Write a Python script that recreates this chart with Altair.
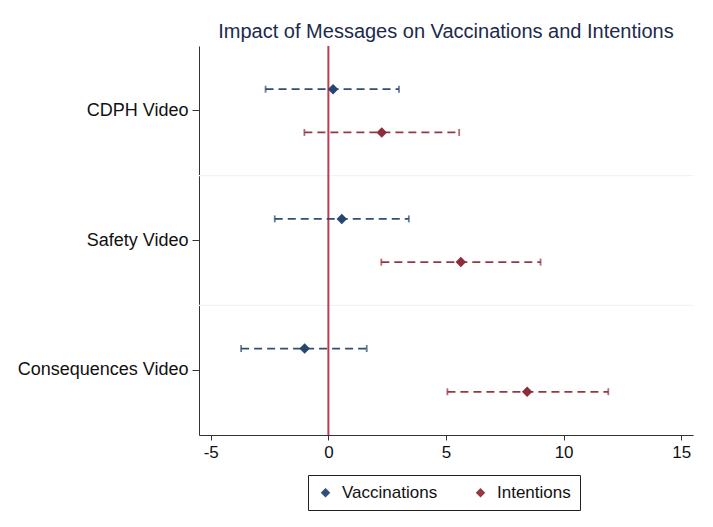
import altair as alt
import pandas as pd

categories = ["CDPH Video", "Safety Video", "Consequences Video"]
series = ["Vaccinations", "Intentions"]

vacc_est = [0.20, 0.57, -1.01]
vacc_lo = [-2.67, -2.28, -3.71]
vacc_hi = [3.00, 3.42, 1.63]

int_est = [2.27, 5.63, 8.45]
int_lo = [-1.02, 2.25, 5.06]
int_hi = [5.56, 9.02, 11.90]

rows = []
for i, c in enumerate(categories):
    rows.append({"cat": c, "series": "Vaccinations", "est": vacc_est[i], "lo": vacc_lo[i], "hi": vacc_hi[i]})
    rows.append({"cat": c, "series": "Intentions", "est": int_est[i], "lo": int_lo[i], "hi": int_hi[i]})
df = pd.DataFrame(rows)

sep_df = pd.DataFrame({"cat": categories[1:]})
zero_df = pd.DataFrame({"zero": [0]})

FONT = "Liberation Sans"
colors = ["#24466f", "#8e2d39"]

xscale = alt.Scale(domain=[-5.5, 15.5], nice=False, zero=False)
yenc = alt.Y("cat:N", sort=categories, scale=alt.Scale(paddingInner=0, paddingOuter=0),
             axis=alt.Axis(title=None, labelFontSize=18, labelColor="#111", labelFont=FONT,
                           tickSize=7, tickColor="#333", domainColor="#333", labelPadding=4,
                           grid=False))
yoff = alt.YOffset("series:N", sort=series, scale=alt.Scale(paddingInner=0, paddingOuter=0.5))
xaxis = alt.Axis(title=None, values=[-5, 0, 5, 10, 15], labelFontSize=17, labelColor="#111",
                 labelFont=FONT, tickSize=5, tickColor="#333", domainColor="#333", grid=False,
                 labelPadding=4, labelExpr="replace(datum.label, '\u2212', '-')")

legend = alt.Legend(title=None, orient="none", legendX=109, legendY=429,
                    direction="horizontal", strokeColor="#222", padding=9,
                    labelFontSize=17, labelFont=FONT, labelColor="#111",
                    symbolType="diamond", symbolSize=90, columnPadding=34,
                    labelOffset=8, symbolStrokeWidth=0)
cenc = alt.Color("series:N", sort=series, scale=alt.Scale(domain=series, range=colors), legend=legend)

base = alt.Chart(df)

seps = alt.Chart(sep_df).mark_rule(color="#edf3f8", strokeWidth=1.2).encode(
    y=alt.Y("cat:N", sort=categories, bandPosition=0)
)

zero = alt.Chart(zero_df).mark_rule(color="#c23a50", strokeWidth=2).encode(
    x=alt.X("zero:Q", scale=xscale, axis=xaxis)
)

ci = base.mark_rule(strokeDash=[8, 5], strokeWidth=1.8, opacity=0.95).encode(
    x=alt.X("lo:Q", scale=xscale, axis=xaxis),
    x2="hi:Q",
    y=yenc,
    yOffset=yoff,
    color=cenc,
)

cap_lo = base.mark_tick(orient="vertical", size=7, thickness=1.8).encode(
    x=alt.X("lo:Q", scale=xscale, axis=xaxis),
    y=yenc,
    yOffset=yoff,
    color=cenc,
)
cap_hi = base.mark_tick(orient="vertical", size=7, thickness=1.8).encode(
    x=alt.X("hi:Q", scale=xscale, axis=xaxis),
    y=yenc,
    yOffset=yoff,
    color=cenc,
)

pts = base.mark_point(shape="diamond", filled=True, size=110, opacity=1).encode(
    x=alt.X("est:Q", scale=xscale, axis=xaxis),
    y=yenc,
    yOffset=yoff,
    color=cenc,
)

chart = alt.layer(seps, zero, ci, cap_lo, cap_hi, pts).properties(
    width=494,
    height=389,
    autosize=alt.AutoSizeParams(type="none"),
    padding={"left": 191, "top": 38, "right": 10, "bottom": 80},
    title=alt.Title("Impact of Messages on Vaccinations and Intentions", fontSize=20,
                    font=FONT, fontWeight="normal", color="#1c2a4c", anchor="middle", offset=3),
).configure_view(stroke=None)

chart.save("out.html", embed_options={"renderer": "svg", "actions": False})
